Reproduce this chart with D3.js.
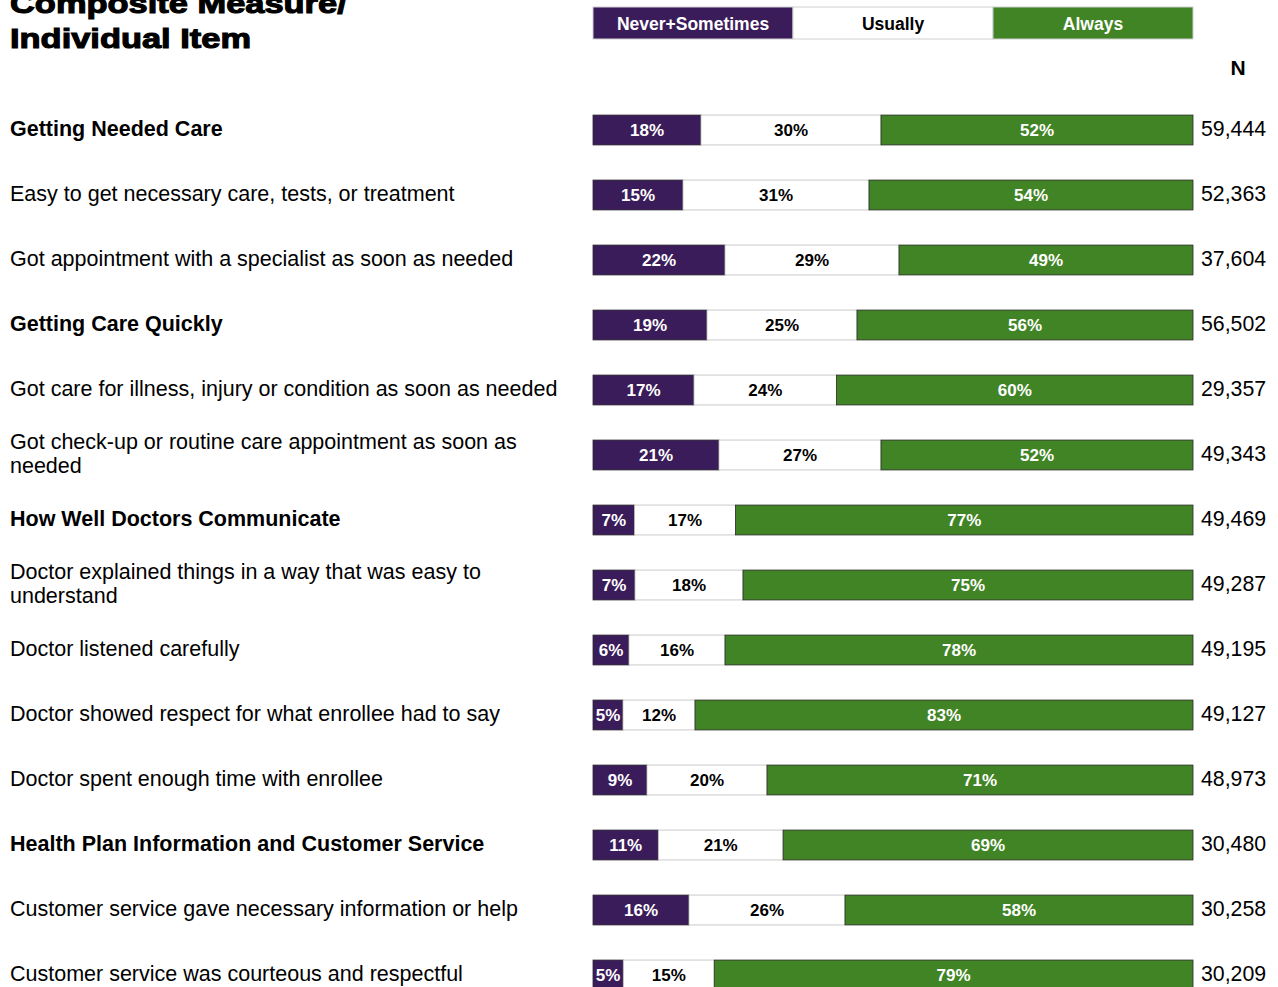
<!DOCTYPE html>
<html>
<head>
<meta charset="utf-8">
<script src="https://cdn.jsdelivr.net/npm/d3@7"></script>
<style>
body { margin: 0; background: #fff; }
text { font-family: "Liberation Sans", Arial, sans-serif; }
</style>
</head>
<body>
<script>
// rows of the chart
var labels = [
    ["Getting Needed Care"],
    ["Easy to get necessary care, tests, or treatment"],
    ["Got appointment with a specialist as soon as needed"],
    ["Getting Care Quickly"],
    ["Got care for illness, injury or condition as soon as needed"],
    ["Got check-up or routine care appointment as soon as", "needed"],
    ["How Well Doctors Communicate"],
    ["Doctor explained things in a way that was easy to", "understand"],
    ["Doctor listened carefully"],
    ["Doctor showed respect for what enrollee had to say"],
    ["Doctor spent enough time with enrollee"],
    ["Health Plan Information and Customer Service"],
    ["Customer service gave necessary information or help"],
    ["Customer service was courteous and respectful"]
];
var composite = [true, false, false, true, false, false, true, false, false, false, false, true, false, false];
var neverSometimes = [18, 15, 22, 19, 17, 21, 7, 7, 6, 5, 9, 11, 16, 5];
var usually        = [30, 31, 29, 25, 24, 27, 17, 18, 16, 12, 20, 21, 26, 15];
var always         = [52, 54, 49, 56, 60, 52, 77, 75, 78, 83, 71, 69, 58, 79];
var nValues = [59444, 52363, 37604, 56502, 29357, 49343, 49469, 49287, 49195, 49127, 48973, 30480, 30258, 30209];
var seriesNames = ["Never+Sometimes", "Usually", "Always"];
var colors = ["#3b1c5a", "#ffffff", "#418425"];
var textColors = ["#fff", "#000", "#fff"];

var width = 1278, height = 987;
var svg = d3.select("body").append("svg")
    .attr("width", width)
    .attr("height", height);

var x = d3.scaleLinear().domain([0, 100]).range([593, 1193]);
var y = d3.scaleBand().domain(d3.range(labels.length)).range([97.5, 1007.5]).paddingInner(0.54).paddingOuter(0.27);

// title (heavy face, widened)
var title = svg.append("g").attr("transform", "translate(10,0) scale(1.23,1)");
title.append("text").attr("x", 0).attr("y", 13)
    .attr("font-size", 28).attr("font-weight", "bold").attr("fill", "#000")
    .attr("stroke", "#000").attr("stroke-width", 1.1)
    .text("Composite Measure/");
title.append("text").attr("x", 0).attr("y", 48)
    .attr("font-size", 28).attr("font-weight", "bold").attr("fill", "#000")
    .attr("stroke", "#000").attr("stroke-width", 1.1)
    .text("Individual Item");

// legend
var legend = svg.append("g");
var lx = d3.scaleBand().domain(seriesNames).range([593, 1193]);
legend.selectAll("rect").data(seriesNames).enter().append("rect")
    .attr("x", function(d) { return lx(d) })
    .attr("y", 7)
    .attr("width", lx.bandwidth())
    .attr("height", 32)
    .attr("fill", function(d, i) { return colors[i] })
    .attr("stroke", "#cfcfcf")
    .attr("stroke-width", 1);
legend.selectAll("text").data(seriesNames).enter().append("text")
    .attr("x", function(d) { return lx(d) + lx.bandwidth() / 2 })
    .attr("y", 30)
    .attr("text-anchor", "middle")
    .attr("font-size", 17.5).attr("font-weight", "bold")
    .attr("fill", function(d, i) { return textColors[i] })
    .text(function(d) { return d });

svg.append("text").attr("x", 1238).attr("y", 75)
    .attr("text-anchor", "middle")
    .attr("font-size", 21).attr("font-weight", "bold")
    .text("N");

// row labels
var rowLabel = svg.append("g").selectAll("text")
    .data(labels).enter().append("text")
    .attr("x", 10)
    .attr("font-size", 21.5)
    .attr("font-weight", function(d, i) { return composite[i] ? "bold" : "normal" })
    .attr("fill", "#000");
rowLabel.each(function(d, i) {
    var cy = y(i) + y.bandwidth() / 2;
    var t = d3.select(this);
    var start = cy + 6 - (d.length - 1) * 12;
    d.forEach(function(line, j) {
        t.append("tspan").attr("x", 10).attr("y", start + j * 24).text(line);
    });
});

// stacked bars
var rows = labels.map(function(d, i) {
    var vals = [neverSometimes[i], usually[i], always[i]];
    var total = d3.sum(vals);
    var acc = 0;
    return vals.map(function(v, k) {
        var seg = { row: i, k: k, value: v, x0: acc / total * 100, x1: (acc + v) / total * 100 };
        acc += v;
        return seg;
    });
});
var segs = [].concat.apply([], rows);

svg.append("g").selectAll("rect")
    .data(segs).enter().append("rect")
    .attr("x", function(d) { return x(d.x0) })
    .attr("y", function(d) { return y(d.row) })
    .attr("width", function(d) { return x(d.x1) - x(d.x0) })
    .attr("height", y.bandwidth())
    .attr("fill", function(d) { return colors[d.k] })
    .attr("stroke", function(d) { return d.k == 1 ? "#bdbdbd" : "#2a2a2a" })
    .attr("stroke-width", 0.8);

svg.append("g").selectAll("text")
    .data(segs).enter().append("text")
    .attr("x", function(d) { return (x(d.x0) + x(d.x1)) / 2 })
    .attr("y", function(d) { return y(d.row) + y.bandwidth() / 2 + 6 })
    .attr("text-anchor", "middle")
    .attr("font-size", 17).attr("font-weight", "bold")
    .attr("fill", function(d) { return textColors[d.k] })
    .text(function(d) { return d.value + "%" });

// N column
svg.append("g").selectAll("text")
    .data(nValues).enter().append("text")
    .attr("x", 1201)
    .attr("y", function(d, i) { return y(i) + y.bandwidth() / 2 + 6 })
    .attr("font-size", 21.3)
    .attr("fill", "#000")
    .text(function(d) { return d3.format(",")(d) });
</script>
</body>
</html>
